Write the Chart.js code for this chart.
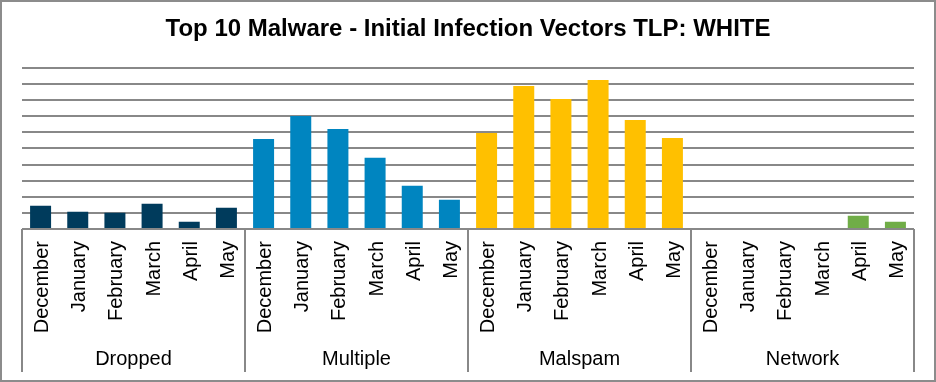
<!DOCTYPE html>
<html>
<head>
<meta charset="utf-8">
<script src="https://cdn.jsdelivr.net/npm/chart.js@4/dist/chart.umd.min.js"></script>
<style>
  html, body { margin: 0; padding: 0; background: #ffffff; }
  #wrap { width: 936px; height: 382px; position: relative; }
</style>
</head>
<body>
<div id="wrap"><canvas id="c" width="936" height="382"></canvas></div>
<script>
const months = ['December', 'January', 'February', 'March', 'April', 'May'];
const groups = ['Dropped', 'Multiple', 'Malspam', 'Network'];
const dropped  = [1.44, 1.07, 1.01, 1.57, 0.45, 1.32];
const multiple = [5.59, 7.01, 6.20, 4.42, 2.68, 1.81];
const malspam  = [5.96, 8.87, 8.06, 9.24, 6.76, 5.65];
const network  = [0, 0, 0, 0, 0.82, 0.45];
const groupColors = ['#003B5C', '#0085C0', '#FFC000', '#70AD47'];

const seriesByGroup = [dropped, multiple, malspam, network];
const labels = [];
const values = [];
const colors = [];
seriesByGroup.forEach((arr, g) => {
  arr.forEach((v, i) => { labels.push(months[i]); values.push(v); colors.push(groupColors[g]); });
});

const GRAY = '#888888';
const FONT = "'Liberation Sans', Arial, sans-serif";

const decor = {
  id: 'decor',
  afterDraw(chart) {
    const ctx = chart.ctx;
    const x = chart.scales.x;
    const n = labels.length;
    const w = (x.getPixelForValue(1) - x.getPixelForValue(0));
    const top = chart.chartArea.bottom;
    const bottom = 372;
    ctx.save();
    ctx.strokeStyle = GRAY;
    ctx.lineWidth = 2;
    for (let g = 0; g <= groups.length; g++) {
      const idx = g * months.length;
      const px = idx < n ? x.getPixelForValue(idx) - w / 2 : x.getPixelForValue(n - 1) + w / 2;
      ctx.beginPath();
      ctx.moveTo(px, top);
      ctx.lineTo(px, bottom);
      ctx.stroke();
    }
    ctx.strokeStyle = '#8c8c8c';
    ctx.lineWidth = 2;
    ctx.strokeRect(1, 1, 934, 380);
    ctx.restore();
  }
};

new Chart(document.getElementById('c'), {
  type: 'bar',
  data: {
    labels: labels,
    datasets: [{
      data: values,
      backgroundColor: colors,
      borderWidth: 0,
      barPercentage: 0.565,
      categoryPercentage: 1.0
    }]
  },
  options: {
    responsive: false,
    animation: false,
    devicePixelRatio: 1,
    layout: { padding: { left: 22, right: 22, top: 0, bottom: 0 } },
    plugins: {
      legend: { display: false },
      tooltip: { enabled: false },
      title: {
        display: true,
        text: 'Top 10 Malware - Initial Infection Vectors TLP: WHITE',
        color: '#000000',
        font: { family: FONT, size: 24, weight: 'bold', lineHeight: 1.2 },
        padding: { top: 15, bottom: 24 }
      }
    },
    scales: {
      y: {
        min: 0,
        max: 10,
        ticks: { display: false, stepSize: 1 },
        grid: { color: GRAY, lineWidth: 2, drawTicks: false },
        border: { display: false }
      },
      x: {
        position: 'bottom',
        grid: { display: false, drawTicks: false },
        border: { display: false },
        ticks: {
          minRotation: 90, maxRotation: 90, autoSkip: false,
          padding: 12, labelOffset: 2, color: '#000000',
          font: { family: FONT, size: 20 }
        },
        afterFit(scale) { scale.height = 110; }
      },
      x2: {
        type: 'category',
        position: 'bottom',
        labels: groups,
        grid: { display: false, drawTicks: false },
        border: { display: false },
        ticks: { padding: 8, color: '#000000', font: { family: FONT, size: 20 } },
        afterFit(scale) { scale.height = 43; }
      }
    }
  },
  plugins: [decor]
});
</script>
</body>
</html>
